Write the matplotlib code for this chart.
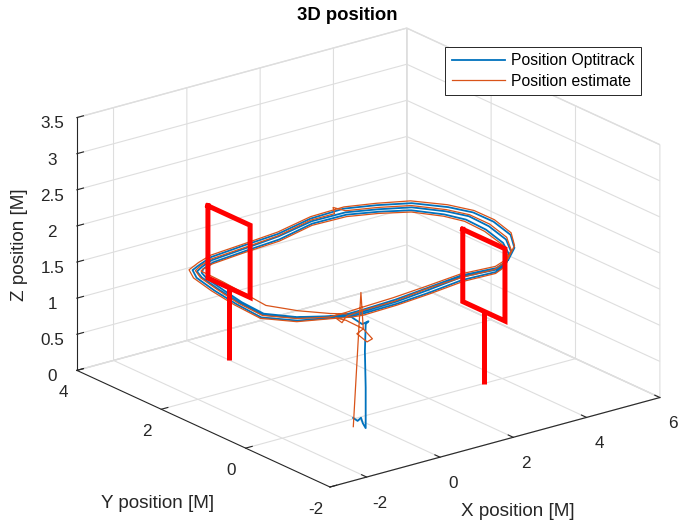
import matplotlib.pyplot as plt
import numpy as np
from mpl_toolkits.mplot3d import proj3d

plt.rcParams['font.family'] = ['Liberation Sans', 'DejaVu Sans']
plt.rcParams['axes.unicode_minus'] = False

# Optitrack ground truth (x, y, z) in metres
takeoff_optitrack = [
    (-0.62, -0.48, 0.22), (-0.52, -0.50, 0.17), (-0.45, -0.52, 0.21), (-0.38, -0.50, 0.12),
    (-0.30, -0.50, 0.04), (-0.30, -0.50, 0.60), (-0.31, -0.49, 1.10), (-0.30, -0.50, 1.48),
    (-0.20, -0.48, 1.50), (-0.28, -0.40, 1.45), (-0.35, -0.25, 1.50),
]
lap1_optitrack = [
    (-0.30, -0.10, 1.50), (0.05, -0.12, 1.50), (1.00, -0.09, 1.50), (2.00, 0.01, 1.50),
    (3.08, 0.14, 1.50), (3.92, 0.07, 1.50), (4.35, 0.21, 1.50), (4.85, 0.53, 1.50),
    (5.21, 0.96, 1.50), (5.41, 1.54, 1.50), (5.44, 2.04, 1.50), (5.23, 2.40, 1.50),
    (4.79, 2.83, 1.50), (4.15, 3.06, 1.50), (3.47, 3.25, 1.50), (2.55, 3.26, 1.50),
    (1.42, 3.06, 1.50), (0.45, 2.99, 1.49), (-0.59, 2.90, 1.49), (-1.02, 2.75, 1.50),
    (-1.29, 2.64, 1.50), (-1.43, 2.40, 1.50), (-1.59, 1.85, 1.50), (-1.73, 1.25, 1.50),
    (-1.78, 0.66, 1.50), (-1.31, 0.26, 1.50), (-0.70, 0.01, 1.50),
]
lap2_optitrack = [
    (-0.26, -0.06, 1.50), (0.08, -0.08, 1.51), (1.03, -0.04, 1.51), (2.03, 0.06, 1.51),
    (3.10, 0.19, 1.50), (3.98, 0.12, 1.50), (4.45, 0.25, 1.51), (4.99, 0.57, 1.52),
    (5.38, 1.00, 1.53), (5.58, 1.58, 1.53), (5.60, 2.08, 1.52), (5.37, 2.47, 1.52),
    (4.89, 2.92, 1.52), (4.22, 3.16, 1.52), (3.52, 3.34, 1.52), (2.60, 3.33, 1.51),
    (1.47, 3.12, 1.51), (0.50, 3.05, 1.51), (-0.53, 2.96, 1.51), (-0.99, 2.82, 1.51),
    (-1.34, 2.70, 1.51), (-1.53, 2.44, 1.50), (-1.70, 1.87, 1.50), (-1.83, 1.23, 1.50),
    (-1.87, 0.61, 1.49), (-1.37, 0.19, 1.49), (-0.72, -0.04, 1.50),
]
lap3_optitrack = [
    (-0.30, -0.14, 1.49), (0.00, -0.16, 1.49), (0.95, -0.14, 1.49), (1.95, -0.04, 1.48),
    (3.00, 0.08, 1.48), (3.85, 0.02, 1.49), (4.26, 0.15, 1.49), (4.73, 0.47, 1.49),
    (5.06, 0.90, 1.49), (5.26, 1.48, 1.49), (5.29, 1.98, 1.49), (5.11, 2.34, 1.49),
    (4.70, 2.76, 1.49), (4.09, 3.00, 1.49), (3.42, 3.19, 1.49), (2.50, 3.20, 1.49),
    (1.37, 3.00, 1.48), (0.42, 2.93, 1.48), (-0.62, 2.84, 1.48), (-1.06, 2.69, 1.49),
    (-1.23, 2.58, 1.49), (-1.35, 2.36, 1.49), (-1.50, 1.83, 1.49), (-1.64, 1.27, 1.49),
    (-1.69, 0.71, 1.49), (-1.25, 0.31, 1.49), (-0.66, 0.05, 1.49), (-0.30, -0.10, 1.50),
]

# onboard position estimate (x, y, z) in metres
takeoff_estimate = [
    (-0.35, -0.25, 0.00), (-0.20, -0.30, 1.85), (-0.25, -0.40, 1.38), (-0.38, -0.36, 1.32),
    (-0.24, -0.48, 1.22), (-0.14, -0.52, 1.26), (-0.30, -0.44, 1.40), (-0.55, -0.25, 1.50),
    (-0.72, -0.15, 1.53), (-0.60, -0.20, 1.46), (-0.45, -0.15, 1.50),
]
lap1_estimate = [
    (-0.35, -0.12, 1.50), (0.05, -0.10, 1.51), (1.00, -0.06, 1.50), (2.00, 0.04, 1.51),
    (3.05, 0.12, 1.50), (3.90, 0.09, 1.50), (4.38, 0.23, 1.51), (4.88, 0.55, 1.51),
    (5.25, 0.98, 1.52), (5.45, 1.56, 1.52), (5.48, 2.06, 1.51), (5.27, 2.43, 1.51),
    (4.82, 2.87, 1.51), (4.18, 3.10, 1.51), (3.50, 3.28, 1.51), (3.30, 3.40, 1.55),
    (3.20, 3.28, 1.51), (2.55, 3.28, 1.51), (1.42, 3.08, 1.50), (0.45, 3.00, 1.50),
    (-0.58, 2.92, 1.50), (-1.04, 2.77, 1.51), (-1.31, 2.66, 1.51), (-1.46, 2.41, 1.50),
    (-1.62, 1.86, 1.50), (-1.76, 1.25, 1.50), (-1.80, 0.64, 1.50), (-1.33, 0.24, 1.50),
    (-0.72, 0.00, 1.50),
]
lap2_estimate = [
    (-0.30, -0.02, 1.51), (0.10, -0.02, 1.52), (1.05, 0.02, 1.52), (2.05, 0.10, 1.52),
    (3.12, 0.22, 1.51), (4.00, 0.16, 1.51), (4.50, 0.29, 1.52), (5.05, 0.62, 1.53),
    (5.44, 1.04, 1.54), (5.64, 1.61, 1.54), (5.66, 2.11, 1.53), (5.42, 2.53, 1.53),
    (4.93, 2.98, 1.53), (4.26, 3.20, 1.53), (3.56, 3.37, 1.53), (2.65, 3.37, 1.52),
    (1.51, 3.16, 1.52), (0.55, 3.08, 1.52), (-0.50, 3.00, 1.52), (-0.98, 2.87, 1.52),
    (-1.39, 2.74, 1.51), (-1.59, 2.46, 1.50), (-1.76, 1.89, 1.50), (-1.89, 1.23, 1.50),
    (-1.92, 0.59, 1.49), (-1.42, 0.16, 1.49), (-0.77, -0.06, 1.50),
]
lap3_estimate = [
    (-0.32, -0.17, 1.49), (0.00, -0.19, 1.48), (0.95, -0.16, 1.48), (1.95, -0.06, 1.47),
    (3.00, 0.05, 1.47), (3.82, 0.00, 1.48), (4.22, 0.13, 1.48), (4.68, 0.45, 1.48),
    (5.01, 0.88, 1.48), (5.20, 1.46, 1.48), (5.23, 1.96, 1.48), (5.06, 2.31, 1.48),
    (4.66, 2.73, 1.48), (4.05, 2.97, 1.48), (3.38, 3.15, 1.48), (2.46, 3.17, 1.48),
    (1.34, 2.97, 1.47), (0.38, 2.91, 1.47), (-0.66, 2.82, 1.47), (-1.09, 2.68, 1.49),
    (-1.26, 2.57, 1.52), (-1.37, 2.36, 1.56), (-1.50, 1.83, 1.60), (-1.62, 1.23, 1.62),
    (-1.64, 0.70, 1.60), (-1.20, 0.31, 1.57), (-0.62, 0.06, 1.52), (-0.30, -0.05, 1.50),
]

# gates: centre of each frame on the floor, frame size and height
gate_x = [0.0, 3.5]
gate_y = [3.0, 0.0]
gate_width = 1.0
gate_bottom = 1.0
gate_top = 2.0

x_ticks = [-2, 0, 2, 4, 6]
y_ticks = [-2, 0, 2, 4]
z_ticks = [0, 0.5, 1, 1.5, 2, 2.5, 3, 3.5]

blue = (0.0, 0.447, 0.741)
orange = (0.85, 0.325, 0.098)
grid_grey = '#dedede'
axis_grey = '#262626'

W, H = 699, 527
fig = plt.figure(figsize=(W / 100, H / 100), dpi=100)
ax = fig.add_subplot(projection='3d', proj_type='ortho', computed_zorder=False)
ax.view_init(elev=20.7, azim=-127.5)
ax.set_box_aspect((1, 1, 0.65))

optitrack = np.vstack([takeoff_optitrack, lap1_optitrack, lap2_optitrack, lap3_optitrack])
estimate = np.vstack([takeoff_estimate, lap1_estimate, lap2_estimate, lap3_estimate])
ax.plot(optitrack[:, 0], optitrack[:, 1], optitrack[:, 2], color=blue, lw=1.3,
        label='Position Optitrack')
ax.plot(estimate[:, 0], estimate[:, 1], estimate[:, 2], color=orange, lw=0.9,
        label='Position estimate')

half = gate_width / 2
for gx, gy in zip(gate_x, gate_y):
    frame_y = [gy + half, gy - half, gy - half, gy + half, gy + half]
    frame_z = [gate_top, gate_top, gate_bottom, gate_bottom, gate_top]
    ax.plot([gx] * 5, frame_y, frame_z, color='red', lw=3.6,
            solid_joinstyle='miter', zorder=5)
    ax.plot([gx, gx], [gy, gy], [0, gate_bottom], color='red', lw=3.6,
            solid_capstyle='butt', zorder=5)

ax.set_xlim(-3, 6)
ax.set_ylim(-2, 4)
ax.set_zlim(0, 3.5)
ax.set_xticks(x_ticks, labels=[f'{t:g}' for t in x_ticks])
ax.set_yticks(y_ticks, labels=[f'{t:g}' for t in y_ticks])
ax.set_zticks(z_ticks, labels=[f'{t:g}' for t in z_ticks])

for axis in (ax.xaxis, ax.yaxis, ax.zaxis):
    axis.set_pane_color((1, 1, 1, 1))
    axis.pane.set_edgecolor(grid_grey)
    axis._axinfo['grid'].update(color=grid_grey, linewidth=0.8)
    axis._axinfo['tick'].update(inward_factor=0.0, outward_factor=0.25)
    axis.line.set_color(axis_grey)
    axis.line.set_linewidth(0.8)
ax.tick_params(labelsize=12.3, colors=axis_grey, pad=2)
ax.tick_params(axis='x', pad=4)

leg = ax.legend(loc='upper right', bbox_to_anchor=(641 / W, 1 - 47 / H),
                bbox_transform=fig.transFigure, fontsize=11.3, fancybox=False,
                framealpha=1, edgecolor=axis_grey, borderaxespad=0,
                handlelength=3.4, handletextpad=0.4, labelspacing=0.35)
leg.get_frame().set_linewidth(0.7)

fig.text(347 / W, 1 - 15 / H, '3D position', ha='center', va='center',
         fontsize=13.3, fontweight='bold')
fig.text(518 / W, 1 - 512 / H, 'X position [M]', ha='center', va='center',
         fontsize=13.6, color=axis_grey)
fig.text(158 / W, 1 - 503 / H, 'Y position [M]', ha='center', va='center',
         fontsize=13.6, color=axis_grey)
fig.text(20 / W, 1 - 245 / H, 'Z position [M]', ha='center', va='center',
         fontsize=13.6, color=axis_grey, rotation=90)

# scale and shift the 3D box so its front floor edge lands where we want it
fig.canvas.draw()


def to_pixels(xs, ys, zs):
    px, py, _ = proj3d.proj_transform(np.asarray(xs, float), np.asarray(ys, float),
                                      np.asarray(zs, float), ax.M)
    return ax.transData.transform(np.column_stack([px, py]))


front = to_pixels([-3, 6], [-2, -2], [0, 0])
target = np.array([[330, H - 487], [660, H - 398]], float)
box = ax.bbox
scale = np.linalg.norm(target[1] - target[0]) / np.linalg.norm(front[1] - front[0])
rel = (front[0] - [box.x0, box.y0]) / box.width
side = box.width * scale
x0, y0 = target[0] - rel * side
ax.set_position([x0 / W, y0 / H, side / W, side / H])

fig.savefig('out.png', dpi=100)
